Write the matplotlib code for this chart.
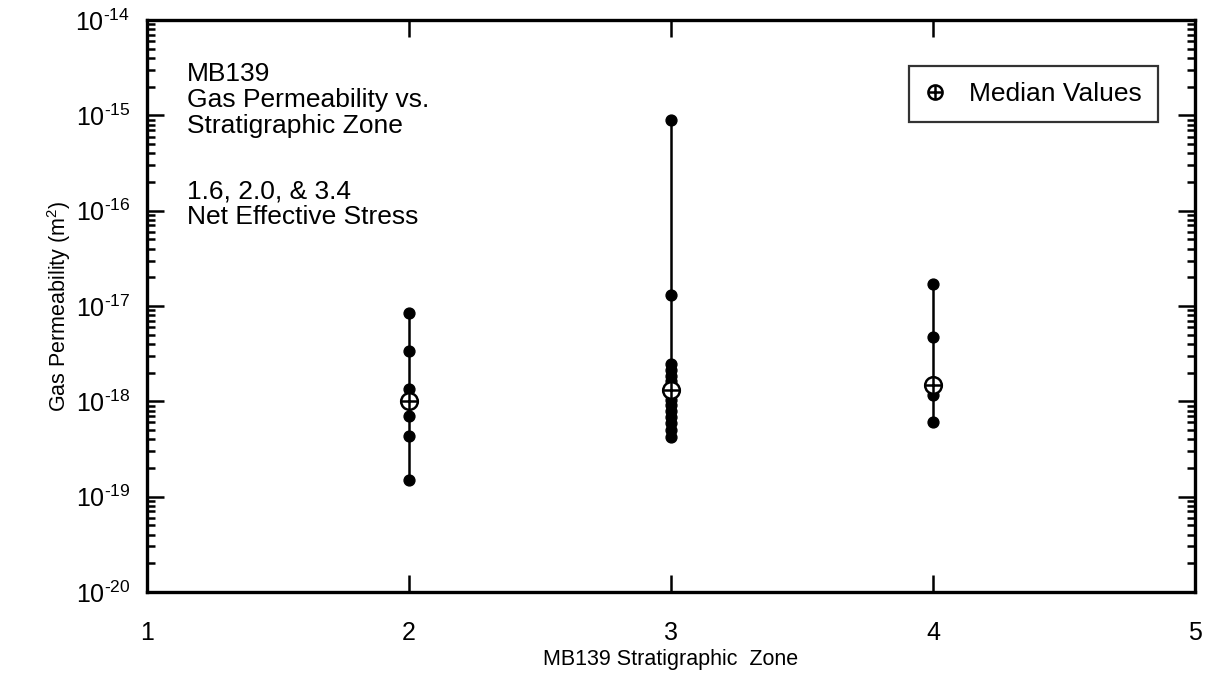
import matplotlib
matplotlib.use('Agg')
import matplotlib.pyplot as plt
from matplotlib.legend_handler import HandlerTuple
from matplotlib.ticker import NullFormatter, FixedLocator, FuncFormatter
import numpy as np

plt.rcParams['font.family'] = ['Liberation Sans', 'DejaVu Sans']
plt.rcParams['mathtext.fontset'] = 'custom'
plt.rcParams['mathtext.rm'] = 'Liberation Sans'
plt.rcParams['mathtext.it'] = 'Liberation Sans'
plt.rcParams['axes.unicode_minus'] = False

# gas permeability measurements (m^2) per stratigraphic zone
zone2 = [8.5e-18, 3.4e-18, 1.35e-18, 7.1e-19, 4.3e-19, 1.5e-19]
zone3 = [8.9e-16, 1.3e-17, 2.47e-18, 2.13e-18, 1.85e-18, 1.63e-18, 1.45e-18,
         1.16e-18, 1.03e-18, 9.1e-19, 7.9e-19, 6.8e-19, 5.9e-19, 5.0e-19, 4.2e-19]
zone4 = [1.7e-17, 4.7e-18, 1.16e-18, 6.0e-19]
zones = [2, 3, 4]
medians = [1.02e-18, 1.3e-18, 1.5e-18]
decades = list(range(-20, -13))

fig = plt.figure(figsize=(12.1, 6.91), dpi=100)
ax = fig.add_axes([0.1215, 0.1433, 0.866, 0.8277])

for z, vals in zip(zones, [zone2, zone3, zone4]):
    ax.plot([z, z], [min(vals), max(vals)], color='black', lw=1.8, zorder=2)
    ax.plot([z] * len(vals), vals, 'o', color='black', ms=7.8, zorder=3)

circ, = ax.plot(zones, medians, 'o', mfc='white', mec='black', mew=1.8,
                ms=12, ls='none', zorder=4)
plus, = ax.plot(zones, medians, '+', color='black', mew=1.8, ms=12,
                ls='none', zorder=5)


def decade_label(v, pos):
    # plain hyphen in the exponent
    return r'$10^{\text{%d}}$' % round(np.log10(v))


major = [10.0 ** d for d in decades]
minor = [m * 10.0 ** d for d in decades[:-1] for m in range(2, 10)]

ax.set_yscale('log')
ax.set_xlim(1, 5)
ax.set_ylim(1e-20, 1e-14)
ax.xaxis.set_major_locator(FixedLocator([1, 2, 3, 4, 5]))
ax.yaxis.set_major_locator(FixedLocator(major))
ax.yaxis.set_major_formatter(FuncFormatter(decade_label))
ax.yaxis.set_minor_locator(FixedLocator(minor))
ax.yaxis.set_minor_formatter(NullFormatter())

ax.tick_params(which='both', direction='in', top=True, right=True,
               labelsize=18, width=1.8)
ax.tick_params(which='major', length=12)
ax.tick_params(which='minor', length=6)
ax.tick_params(axis='x', which='major', pad=21)
ax.tick_params(axis='y', which='major', pad=12)
for s in ax.spines.values():
    s.set_linewidth(2.4)

ax.set_xlabel('MB139 Stratigraphic  Zone', fontsize=15.5, labelpad=3)
ax.set_ylabel('Gas Permeability (m$^2$)', fontsize=15.5, labelpad=2)

ax.text(0.038, 0.926, 'MB139\nGas Permeability vs.\nStratigraphic Zone',
        transform=ax.transAxes, fontsize=19, va='top', linespacing=1.1)
ax.text(0.038, 0.722, '1.6, 2.0, & 3.4\nNet Effective Stress',
        transform=ax.transAxes, fontsize=19, va='top', linespacing=1.1)

leg = ax.legend([(circ, plus)], ['Median Values'],
                handler_map={tuple: HandlerTuple(ndivide=1)},
                loc='upper right', bbox_to_anchor=(0.9647, 0.9196),
                fontsize=19, fancybox=False, edgecolor='black',
                handlelength=0.8, handletextpad=0.9, borderpad=0.6,
                borderaxespad=0, markerscale=0.85)
leg.get_frame().set_linewidth(1.6)

fig.savefig('out.png', dpi=100)
